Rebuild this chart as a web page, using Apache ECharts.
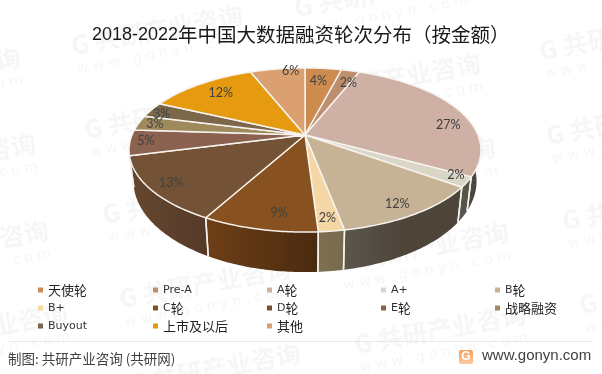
<!DOCTYPE html>
<html><head><meta charset="utf-8">
<style>html,body{margin:0;padding:0;background:#fff}#c{width:602px;height:374px}</style>
<script src="https://cdn.jsdelivr.net/npm/echarts@6/dist/echarts.min.js"></script>
</head><body><div id="c"></div>
<script>
const categories = ['天使轮','Pre-A','A轮','A+','B轮','B+','C轮','D轮','E轮','战略融资','Buyout','上市及以后','其他'];
const values = [4,2,27,2,12,2,9,13,5,3,3,12,6];
const topColors = ['#ce8b4f','#bc8f6e','#ceb0a4','#dad6c5','#c6b295','#f4d7a4','#87521f','#745236','#8b6150','#9e8a5c','#7d674a','#e69a0f','#dba070'];
const wallColors = [['#8a5c33','#8a5c33'],['#7d5f48','#7d5f48'],['#4f483f','#4a433a'],['#5a574e','#55524a'],['#5c564b','#4d443a','#4d443a'],['#7f7052','#786a4d'],['#6e3f17','#4a2a10'],['#66472f','#553a28'],['#5d4135','#5d4135'],['#6a5c3d','#6a5c3d'],['#544531','#544531'],['#9a6709','#9a6709'],['#92693f','#92693f']];
const labelNudge = [[-3,5],[3,5],[9,12],[12,0],[-1,2],[0,2],[13,-2],[-2,1],[-7,-1],[-5,-1],[-9,1],[8,3],[10,-5]];

const total = values.reduce((a,b)=>a+b,0);
const cx = 305, cy = 135, rx = 173, ry = 79.3, persp = 0.183;
const baseScaleX = 0.975, baseDrop = 29.4, baseRy = 88;
const project = (deg, r) => {
  const a = deg*Math.PI/180, u = r*Math.sin(a), v = -r*Math.cos(a), d = 1-persp*v;
  return [cx+rx*u/d, cy+ry*v/d, v];
};
const projectBase = (deg) => {
  const a = deg*Math.PI/180, u = Math.sin(a), v = -Math.cos(a), d = 1-persp*v;
  return [cx+rx*baseScaleX*u/d, cy+baseDrop+baseRy*v/d];
};
const startAngle = i => values.slice(0,i).reduce((a,b)=>a+b,0)/total*360;

function renderSlice(i){
  const a0 = startAngle(i), a1 = a0+values[i]/total*360, children = [];
  const top = [[cx,cy]], topArc = [], baseArc = [];
  for(let t=0;t<=40;t++){
    const a = a0+(a1-a0)*t/40, p = project(a,1);
    top.push([p[0],p[1]]);
    if(p[2]>=-0.02){ topArc.push([p[0],p[1]]); baseArc.push(projectBase(a)); }
  }
  if(topArc.length>1){
    const stops = wallColors[i].map((color,k,arr)=>({offset:k/(arr.length-1),color}));
    children.push({type:'polygon',z2:1,shape:{points:topArc.concat(baseArc.slice().reverse())},
      style:{fill:new echarts.graphic.LinearGradient(0,0,1,0,stops),stroke:null}});
    [a0,a1].forEach(a=>{
      const p = project(a,1);
      if(p[2]>=-0.02){ const b = projectBase(a);
        children.push({type:'line',z2:2,shape:{x1:p[0],y1:p[1],x2:b[0],y2:b[1]},style:{stroke:'#f4f2ee',lineWidth:1.5}});
      }
    });
  }
  children.push({type:'polygon',z2:10,shape:{points:top},style:{fill:topColors[i],stroke:'#f6f3ef',lineWidth:1.5,lineJoin:'round'}});
  const lp = project((a0+a1)/2,0.87);
  children.push({type:'text',z2:20,style:{x:lp[0]+labelNudge[i][0],y:lp[1]+labelNudge[i][1],text:values[i]+'%',fill:'#404040',
    font:'12.5px Lato,"Noto Sans CJK SC"',align:'center',verticalAlign:'middle'}});
  return {type:'group',children};
}

const series = categories.map((name,i)=>({
  type:'custom',name,coordinateSystem:'none',silent:true,data:[[values[i]]],
  itemStyle:{color:topColors[i]},renderItem:()=>renderSlice(i),animation:false
}));

const legendFont = {fontFamily:'"DejaVu Sans"',fontSize:11,color:'#333',lineHeight:18,
  rich:{z:{fontFamily:'"Noto Sans CJK SC"',fontSize:13,color:'#222',lineHeight:18}}};
const legendX = [33,148,262,376,490];
const legends = legendX.map((left,c)=>({
  left,top:276,orient:'vertical',icon:'rect',itemWidth:5,itemHeight:5,itemGap:0,
  selectedMode:false,textStyle:legendFont,
  formatter:n=>n.replace(/[\u4e00-\u9fff]+/g,m=>'{z|'+m+'}'),
  data:categories.filter((_,i)=>i%5===c)
}));

const wmRotation = 0.18;
const wmCenters = [[-65,72],[-50,158],[-37,245],[-18,328],
  [157,30],[170,114],[188,199],[205,283],[215,368],
  [380,-8],[395,78],[410,162],[423,247],[440,329],
  [625,35],[632,120],[648,205],[665,289]];
const wm = ([x,y])=>[
  {type:'text',x,y,rotation:wmRotation,z:-10,silent:true,
   style:{text:'G 共研产业咨询',fill:'#f6f6f6',font:'bold 25px "Noto Sans CJK SC"',align:'center',verticalAlign:'middle'}},
  {type:'text',x:x+4,y:y+24,rotation:wmRotation,z:-10,silent:true,
   style:{text:'w w w . g o n y n . c o m',fill:'#f6f6f6',font:'14px "DejaVu Sans"',align:'center',verticalAlign:'middle'}}
];
const graphic = [
  ...wmCenters.flatMap(wm),
  {type:'line',shape:{x1:8,y1:341.5,x2:592,y2:341.5},style:{stroke:'#e8e8e8',lineWidth:1}},
  {type:'text',x:8,y:359,style:{text:'制图: 共研产业咨询 (共研网)',fill:'#404040',font:'13.5px "Noto Sans CJK SC"',verticalAlign:'middle'}},
  {type:'rect',shape:{x:459,y:350,width:14,height:14,r:2},style:{fill:new echarts.graphic.LinearGradient(0,0,0,1,[{offset:0,color:'#f6a05a'},{offset:1,color:'#fbc9a0'}])}},
  {type:'text',x:466,y:357,style:{text:'G',fill:'#fff',font:'bold 12px "Liberation Sans"',align:'center',verticalAlign:'middle'}},
  {type:'text',x:482,y:356,style:{text:'www.gonyn.com',fill:'#404040',font:'15px "Liberation Sans"',verticalAlign:'middle'}}
];

const chart = echarts.init(document.getElementById('c'),null,{renderer:'canvas'});
chart.setOption({
  backgroundColor:'#fff',animation:false,
  title:{text:'{d|2018-2022}{z|年中国大数据融资轮次分布（按金额）}',left:87,top:15,
    textStyle:{fontWeight:'normal',rich:{
      d:{fontFamily:'"Liberation Sans"',fontSize:18,fontWeight:'normal',color:'#1a1a1a',lineHeight:30},
      z:{fontFamily:'"Noto Sans CJK SC"',fontSize:19.5,fontWeight:'normal',color:'#1a1a1a',lineHeight:30}}}},
  legend:legends,graphic:{elements:graphic},series
});
</script></body></html>
